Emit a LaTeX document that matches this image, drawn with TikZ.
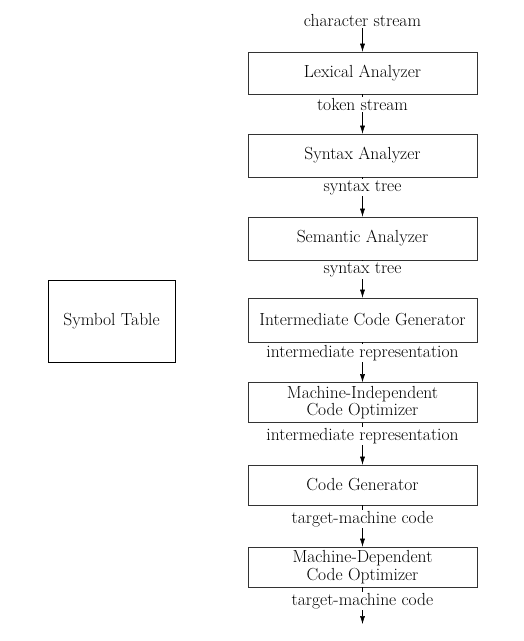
\documentclass[tikz,border=0pt]{standalone}
\usetikzlibrary{arrows.meta}
\begin{document}
\begin{tikzpicture}[x=1pt,y=-1pt,
  phase/.style={draw=black!80, line width=0.6pt, minimum width=229pt, align=center, inner sep=0pt, font=\fontsize{17.5}{17.5}\selectfont},
  symtab/.style={draw=black, line width=0.9pt, minimum width=127pt, minimum height=82pt, inner sep=0pt, font=\fontsize{17.5}{18}\selectfont},
  lbl/.style={fill=white, inner sep=1.5pt, font=\fontsize{17.5}{18}\selectfont},
  flow/.style={-{Latex[length=8pt,width=5pt]}, line width=0.5pt}]
\useasboundingbox (0,0) rectangle (523,641);
\node[symtab] (sym) at (111.5,321) {Symbol Table};
\node[phase, minimum height=42pt] (lex) at (362.5,73) {Lexical Analyzer};
\node[phase, minimum height=43pt] (syn) at (362.5,155.5) {Syntax Analyzer};
\node[phase, minimum height=43pt] (sem) at (362.5,238.5) {Semantic Analyzer};
\node[phase, minimum height=44pt] (icg) at (362.5,320) {Intermediate Code Generator};
\node[phase, minimum height=40pt] (mi) at (362.5,402.5) {Machine-Independent\\Code Optimizer};
\node[phase, minimum height=40pt] (cg) at (362.5,485) {Code Generator};
\node[phase, minimum height=40pt] (md) at (362.5,567) {Machine-Dependent\\Code Optimizer};
\coordinate (out) at (362.5,624);
\node[lbl, fill=none] (l0) at (362.5,20) {character stream};
\draw[flow] (l0.south) -- (lex.north);
\draw[flow] (lex.south) -- (syn.north);
\draw[flow] (syn.south) -- (sem.north);
\draw[flow] (sem.south) -- (icg.north);
\draw[flow] (icg.south) -- (mi.north);
\draw[flow] (mi.south) -- (cg.north);
\draw[flow] (cg.south) -- (md.north);
\draw[flow] (md.south) -- (out);
\node[lbl] (l1) at (362.5,104.5) {token stream};
\node[lbl] (l2) at (362.5,187.5) {syntax tree};
\node[lbl] (l3) at (362.5,270) {syntax tree};
\node[lbl] (l4) at (362.5,353) {intermediate representation};
\node[lbl] (l5) at (362.5,436) {intermediate representation};
\node[lbl] (l6) at (362.5,519) {target-machine code};
\node[lbl] (l7) at (362.5,601) {target-machine code};
\end{tikzpicture}
\end{document}
